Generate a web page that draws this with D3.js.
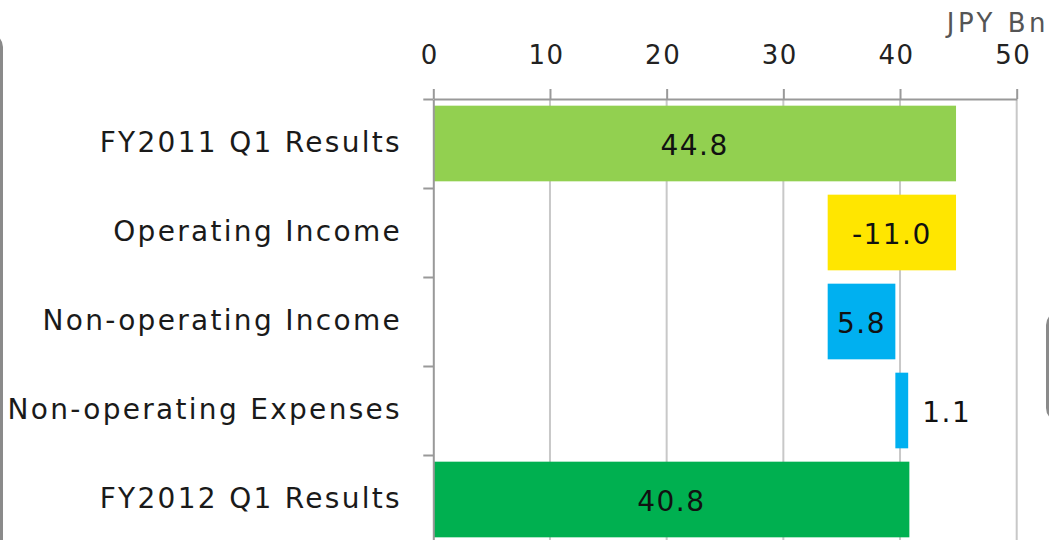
<!DOCTYPE html>
<html lang="en">
<head>
<meta charset="UTF-8">
<title>Waterfall</title>
<script src="https://d3js.org/d3.v7.min.js"></script>
<style>
html, body { margin: 0; padding: 0; background: #fff; }
svg { display: block; }
text { font-family: 'DejaVu Sans', sans-serif; }
.cat { font-size: 28px; fill: #1a1a1a; letter-spacing: 2.3px; }
.val { font-size: 28px; fill: #111; letter-spacing: 1.5px; }
.tick text { font-size: 26px; fill: #222; letter-spacing: 1.5px; }
</style>
</head>
<body>
<svg id="canvas"></svg>
<script>
let categories = ['FY2011 Q1 Results', 'Operating Income', 'Non-operating Income', 'Non-operating Expenses', 'FY2012 Q1 Results']
let values = [44.8, -11.0, 5.8, 1.1, 40.8]
let isTotal = [true, false, false, false, true]
let labels = ['44.8', '-11.0', '5.8', '1.1', '40.8']
let colors = ['#92D050', '#FFE600', '#00B0F0', '#00B0F0', '#00B050']
let xTicks = [0, 10, 20, 30, 40, 50]
let unit = 'JPY Bn'

let width = 1049
let height = 540

let svg = d3.select('#canvas').attr('width', width).attr('height', height)

// waterfall start/end
let running = 0
let bars = values.map((v, i) => {
    let start, end
    if (isTotal[i]) { start = 0; end = v; running = v }
    else { start = running; end = running + v; running = end }
    return { cat: categories[i], lo: Math.min(start, end), hi: Math.max(start, end), label: labels[i], color: colors[i] }
})

let xScale = d3.scaleLinear().domain([0, 50]).range([433.3, 1016.7])
let yScale = d3.scaleBand().domain(categories).range([99, 544]).paddingInner(0.15).paddingOuter(0.075)
let rowScale = d3.scaleLinear().domain([0, categories.length]).range([99, 544])

// slide frame pieces
svg.append('rect').attr('x', -100).attr('y', 35).attr('width', 101.5).attr('height', 600)
    .attr('rx', 12).attr('fill', 'none').attr('stroke', '#8a8a8a').attr('stroke-width', 3)
svg.append('rect').attr('x', 1047.5).attr('y', 313).attr('width', 100).attr('height', 107)
    .attr('rx', 12).attr('fill', 'none').attr('stroke', '#8a8a8a').attr('stroke-width', 3)

// gridlines
svg.append('g').selectAll('line')
    .data(xTicks.slice(1))
    .enter().append('line')
    .attr('x1', d => xScale(d)).attr('x2', d => xScale(d))
    .attr('y1', 99).attr('y2', height)
    .attr('stroke', '#c8c8c8').attr('stroke-width', 2)

// bars
svg.append('g').selectAll('rect')
    .data(bars)
    .enter().append('rect')
    .attr('x', d => xScale(d.lo))
    .attr('width', d => xScale(d.hi) - xScale(d.lo))
    .attr('y', d => yScale(d.cat))
    .attr('height', yScale.bandwidth())
    .attr('fill', d => d.color)

// value labels
svg.append('g').selectAll('text')
    .data(bars)
    .enter().append('text')
    .attr('class', 'val')
    .attr('x', d => (xScale(d.hi) - xScale(d.lo)) < 40 ? xScale(d.hi) + 14 : (xScale(d.lo) + xScale(d.hi)) / 2)
    .attr('text-anchor', d => (xScale(d.hi) - xScale(d.lo)) < 40 ? 'start' : 'middle')
    .attr('y', d => yScale(d.cat) + yScale.bandwidth() / 2 + 11)
    .text(d => d.label)

// top axis
let xAxis = d3.axisTop(xScale).tickValues(xTicks).tickSize(10).tickSizeOuter(0).tickPadding(25)
let gx = svg.append('g').attr('transform', 'translate(0,99)').call(xAxis)
gx.select('.domain').attr('stroke', '#999').attr('stroke-width', 2)
gx.selectAll('.tick line').attr('stroke', '#999').attr('stroke-width', 2)
gx.selectAll('.tick text').attr('dx', -4).attr('font-family', null).attr('font-size', null)

// left axis (row separators)
let yAxis = d3.axisLeft(rowScale).ticks(categories.length).tickSize(10).tickSizeOuter(0).tickFormat('')
let gy = svg.append('g').attr('transform', 'translate(433.3,0)').call(yAxis)
gy.select('.domain').attr('stroke', '#999').attr('stroke-width', 2)
gy.selectAll('.tick line').attr('stroke', '#999').attr('stroke-width', 2)

// category labels
svg.append('g').selectAll('text')
    .data(categories)
    .enter().append('text')
    .attr('class', 'cat')
    .attr('x', 402)
    .attr('text-anchor', 'end')
    .attr('y', d => yScale(d) + yScale.bandwidth() / 2 + 8)
    .text(d => d)

svg.append('text')
    .attr('x', 1049).attr('y', 31.5)
    .attr('text-anchor', 'end')
    .style('font-size', '26px').style('fill', '#555').style('letter-spacing', '3.5px')
    .text(unit)
</script>
</body>
</html>
